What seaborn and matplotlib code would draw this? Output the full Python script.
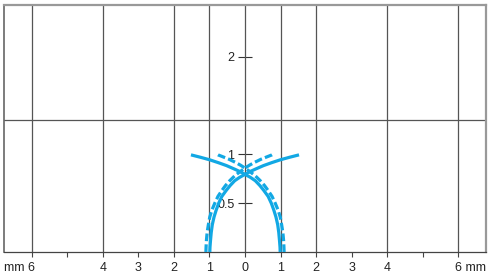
import matplotlib
matplotlib.use("Agg")
import matplotlib.pyplot as plt
from matplotlib.transforms import ScaledTranslation
import seaborn as sns
import pandas as pd

# ---- data (x in mm, y relative) ----
solid_a_x = [-0.99, -0.985, -0.97, -0.95, -0.92, -0.87, -0.81, -0.74, -0.65, -0.53, -0.42, -0.29, -0.15, 0.0,
             0.15, 0.30, 0.52, 0.75, 1.00, 1.25, 1.52]
solid_a_y = [0.0, 0.05, 0.12, 0.20, 0.28, 0.36, 0.43, 0.50, 0.57, 0.63, 0.68, 0.73, 0.765, 0.795,
             0.825, 0.85, 0.885, 0.915, 0.945, 0.97, 0.995]
solid_b_x = [0.99, 0.985, 0.97, 0.95, 0.92, 0.87, 0.81, 0.74, 0.65, 0.53, 0.42, 0.29, 0.15, 0.0,
             -0.15, -0.30, -0.52, -0.75, -1.00, -1.25, -1.52]
solid_b_y = solid_a_y

dash_c_x = [-1.10, -1.095, -1.085, -1.065, -1.03, -0.99, -0.93, -0.85, -0.76, -0.65, -0.55, -0.43, -0.29, -0.15,
            0.0, 0.13, 0.28, 0.45, 0.62, 0.76, 0.83]
dash_c_y = [0.0, 0.05, 0.12, 0.20, 0.28, 0.36, 0.43, 0.50, 0.57, 0.63, 0.68, 0.73, 0.78, 0.82,
            0.86, 0.89, 0.92, 0.95, 0.975, 0.995, 1.01]
dash_d_x = [1.10, 1.095, 1.085, 1.065, 1.03, 0.99, 0.93, 0.85, 0.76, 0.65, 0.55, 0.43, 0.29, 0.15,
            0.0, -0.13, -0.28, -0.45, -0.62, -0.76, -0.83]
dash_d_y = dash_c_y

x_ticks = [-6, -5, -4, -3, -2, -1, 0, 1, 2, 3, 4, 5, 6]
x_tick_labels = ["mm 6", "", "4", "3", "2", "1", "0", "1", "2", "3", "4", "", "6 mm"]
x_grid = [-6, -4, -2, -1, 0, 1, 2, 4, 6]
y_grid = [1.35]
y_ticks = [0.5, 1, 2]
y_tick_labels = ["0.5", "1", "2"]

CYAN = "#12a8e4"

sns.set_style("white")
plt.rcParams["font.family"] = ["Liberation Sans", "DejaVu Sans"]

fig = plt.figure(figsize=(4.9, 2.8), dpi=100)
ax = fig.add_axes([4 / 490, 1 - 252 / 280, 482 / 490, 247 / 280])

for xv in x_grid:
    ax.axvline(xv, color="#555555", lw=0.9, zorder=1)
for yv in y_grid:
    ax.axhline(yv, color="#555555", lw=0.9, zorder=1)

curves = [
    (solid_a_x, solid_a_y, "-"),
    (solid_b_x, solid_b_y, "-"),
    (dash_c_x, dash_c_y, "--"),
    (dash_d_x, dash_d_y, "--"),
]
for cx, cy, ls in curves:
    df = pd.DataFrame({"x": cx, "y": cy})
    line_kw = dict(lw=2.3, color=CYAN, zorder=3, solid_capstyle="butt")
    if ls == "--":
        line_kw["dashes"] = (2.4, 1.0)
    sns.lineplot(data=df, x="x", y="y", sort=False, estimator=None, ax=ax, **line_kw)

ax.set_xlim(-6.78, 6.78)
ax.set_ylim(0, 2.53)
ax.set_xlabel("")
ax.set_ylabel("")

FS = 9.0
ax.set_xticks(x_ticks)
ax.set_xticklabels(x_tick_labels)
ax.tick_params(axis="x", direction="out", length=3.6, width=0.8, color="#444444",
               pad=3.8, labelsize=FS, labelcolor="#222222", bottom=True)
ax.tick_params(axis="y", left=False, labelleft=False)

dx = 3.5 / 100
labels = ax.get_xticklabels()
labels[0].set_ha("right")
labels[0].set_transform(labels[0].get_transform() + ScaledTranslation(dx, 0, fig.dpi_scale_trans))
labels[-1].set_ha("left")
labels[-1].set_transform(labels[-1].get_transform() + ScaledTranslation(-dx, 0, fig.dpi_scale_trans))

for side in ["left", "right", "top", "bottom"]:
    ax.spines[side].set_visible(True)
ax.spines["bottom"].set_color("#444444")
ax.spines["bottom"].set_linewidth(0.9)
ax.spines["left"].set_color("#666666")
ax.spines["left"].set_linewidth(1.2)
ax.spines["top"].set_color("#999999")
ax.spines["top"].set_linewidth(1.6)
ax.spines["right"].set_color("#999999")
ax.spines["right"].set_linewidth(1.6)

sec = ax.secondary_yaxis(0.5)
for s in sec.spines.values():
    s.set_visible(False)
sec.yaxis.set_ticks_position("left")
sec.set_yticks(y_ticks)
sec.set_yticklabels(y_tick_labels)
sec.tick_params(axis="y", which="both", left=True, right=False, labelleft=True, labelright=False,
                direction="inout", length=9.4, width=0.8, color="#333333",
                pad=3.0, labelsize=FS, labelcolor="#222222")

fig.savefig("out.png", dpi=100)
